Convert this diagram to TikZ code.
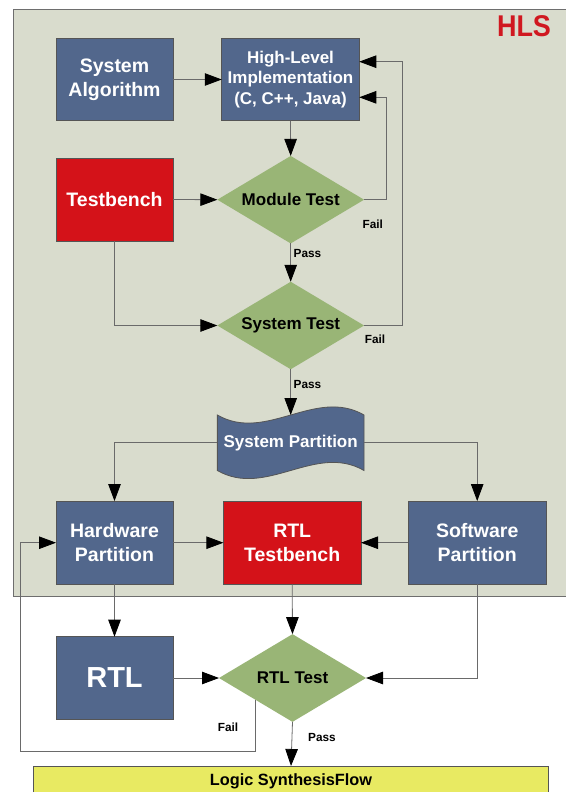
\documentclass[tikz,border=0pt]{standalone}
\usepackage{fontspec}
\setmainfont{Liberation Sans}
\usetikzlibrary{shapes.geometric,arrows.meta,calc}
\definecolor{bgc}{HTML}{D9DCCD}
\definecolor{bgedge}{HTML}{6E6E6E}
\definecolor{boxblue}{HTML}{52678C}
\definecolor{boxred}{HTML}{D41219}
\definecolor{dgreen}{HTML}{99B576}
\definecolor{ylw}{HTML}{E8EA62}
\definecolor{edgec}{HTML}{555555}
\definecolor{wirec}{HTML}{6A6A6A}
\definecolor{hlsred}{HTML}{D01820}
\begin{document}
\begin{tikzpicture}[x=1pt,y=-1pt,
 box/.style={rectangle, draw=edgec, line width=0.8pt, inner sep=0pt, outer sep=0pt, align=center, text=white, font=\bfseries\fontsize{19.5}{24}\selectfont},
 bluebox/.style={box, fill=boxblue},
 redbox/.style={box, fill=boxred},
 dec/.style={diamond, aspect=1.677, fill=dgreen, inner sep=0pt, outer sep=0pt, minimum width=146.7pt, minimum height=87.5pt, font=\bfseries\fontsize{17}{20}\selectfont, text=black},
 wire/.style={draw=wirec, line width=0.8pt, -{Triangle[length=17pt,width=12.5pt,fill=black,color=black]}},
 lbl/.style={font=\bfseries\fontsize{11.8}{13}\selectfont, inner sep=0pt, text=black}
]
\useasboundingbox (0,0) rectangle (565,792);
\fill[white] (0,0) rectangle (565,792);
% HLS region
\draw[draw=bgedge, line width=0.9pt, fill=bgc] (13.5,9) rectangle (575,596);
\node[font=\bfseries\fontsize{30}{30}\selectfont, text=hlsred, xscale=0.9, transform shape, inner sep=0pt] (hls) at (524,26) {HLS};

% nodes
\node[bluebox, minimum width=117pt, minimum height=82.5pt] (sysalg) at (114.5,79.5) {System\\Algorithm};
\node[bluebox, minimum width=137.5pt, minimum height=82.5pt, font=\bfseries\fontsize{17}{20.5}\selectfont] (hli) at (290.5,79.5) {High-Level\\Implementation\\(C, C++, Java)};
\node[redbox, minimum width=117pt, minimum height=83pt] (tb) at (114.5,199.5) {Testbench};
\node[dec] (modtest) at (290.7,199.7) {Module Test};
\node[dec] (systest) at (290.7,325.5) {System Test};

% system partition (tape)
\node[rectangle, minimum width=146.7pt, minimum height=55.5pt, inner sep=0pt, outer sep=0pt] (syspart) at (290.7,442.75) {};
\draw[draw=edgec, line width=0.8pt, fill=boxblue]
  (syspart.north west) .. controls ($(syspart.north west)+(48.7,28)$) and ($(syspart.north east)+(-48.7,-28)$) .. (syspart.north east)
  -- (syspart.south east) .. controls ($(syspart.south east)+(-48.7,-28)$) and ($(syspart.south west)+(48.7,28)$) .. (syspart.south west) -- cycle;
\node[text=white, font=\bfseries\fontsize{17}{20}\selectfont, inner sep=0pt] (sptext) at (syspart.center) {System Partition};

\node[bluebox, minimum width=117pt, minimum height=83.3pt] (hw) at (114.5,542.7) {Hardware\\Partition};
\node[redbox, minimum width=137.6pt, minimum height=83.3pt] (rtltb) at (292.2,542.7) {RTL\\Testbench};
\node[bluebox, minimum width=137.7pt, minimum height=83.3pt] (sw) at (477.2,542.7) {Software\\Partition};
\node[bluebox, minimum width=117pt, minimum height=82.6pt, font=\bfseries\fontsize{29}{30}\selectfont] (rtl) at (114.5,678) {RTL};
\node[dec, minimum width=147pt, minimum height=87.7pt] (rtltest) at (292.5,678) {RTL Test};
\node[rectangle, draw=edgec, line width=0.8pt, fill=ylw, minimum width=514.5pt, minimum height=40pt, inner sep=0pt, outer sep=0pt] (lsf) at (291,786) {};
\node[font=\bfseries\fontsize{16.3}{18}\selectfont, text=black, inner sep=0pt] (lsftext) at (291,781) {Logic SynthesisFlow};

% helper coordinates
\coordinate (r1) at (386,97.3);
\coordinate (r2) at (402.5,61.7);
\coordinate (f2) at (20.5,751.7);

% connectors
\draw[wire] (sysalg.east) -- (hli.west);
\draw[wire] (hli.south) -- (modtest.north);
\draw[wire] (tb.east) -- (modtest.west);
\draw[wire] (modtest.east) -| (r1) -- (r1 -| hli.east);
\draw[wire] (systest.east) -| (r2) -- (r2 -| hli.east);
\draw[wire] (tb.south) |- (systest.west);
\draw[wire] (modtest.south) -- (systest.north);
\draw[wire] (systest.south) -- (syspart.north);
\draw[wire] (syspart.west) -| (hw.north);
\draw[wire] (syspart.east) -| (sw.north);
\draw[wire] (hw.east) -- (rtltb.west);
\draw[wire] (sw.west) -- (rtltb.east);
\draw[wire] (hw.south) -- (rtl.north);
\draw[wire] (rtltb.south) -- (rtltest.north);
\draw[wire] (sw.south) |- (rtltest.east);
\draw[wire] (rtl.east) -- (rtltest.west);
\draw[wire] (rtltest.south west) |- (f2) |- (hw.west);
\draw[wire] (rtltest.south) -- (lsf.north);

% labels
\node[lbl] (fail1) at (372.7,224) {Fail};
\node[lbl] (pass1) at (307.5,253) {Pass};
\node[lbl] (fail2) at (375,339) {Fail};
\node[lbl] (pass2) at (307.5,384.3) {Pass};
\node[lbl] (fail3) at (228,727) {Fail};
\node[lbl] (pass3) at (322,737) {Pass};
\end{tikzpicture}
\end{document}
